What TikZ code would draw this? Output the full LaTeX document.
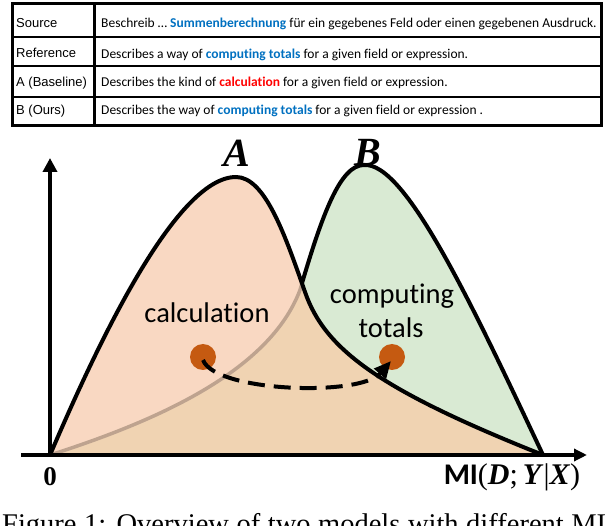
\documentclass[tikz,border=0pt]{standalone}
\usepackage{fontspec}
\setmainfont{Carlito}[Ligatures=NoCommon]
\newfontfamily\arialf{Liberation Sans}
\newfontfamily\timesf{Liberation Serif}
\usetikzlibrary{arrows.meta}
\definecolor{tblue}{RGB}{0,112,192}
\definecolor{tred}{RGB}{255,0,0}
\definecolor{peach}{RGB}{249,216,194}
\definecolor{tanc}{RGB}{240,211,178}
\definecolor{lgreen}{RGB}{217,234,211}
\definecolor{brownline}{RGB}{190,163,143}
\definecolor{dotc}{RGB}{197,90,17}
\tikzset{
  lbl/.style={anchor=base west, inner sep=0pt, font=\arialf\fontsize{13}{15}\selectfont},
  txt/.style={anchor=base west, inner sep=0pt, font=\fontsize{13.5}{15}\selectfont},
  outline/.style={line width=4pt, line join=round},
  axis/.style={line width=4pt},
  bigword/.style={inner sep=0pt, font=\fontsize{28.5}{30}\selectfont},
  peakname/.style={inner sep=0pt, font=\timesf\bfseries\itshape\fontsize{40}{40}\selectfont},
  dotstyle/.style={circle, fill=dotc, minimum size=26pt, inner sep=0pt}
}
\def\Apath{(50,455) .. controls (95,350) and (175,177) .. (236,177) .. controls (265,177) and (285,235) .. (305,292) .. controls (325,350) and (380,390) .. (543,455)}
\def\Bpath{(50,455) .. controls (160,420) and (270,370) .. (300,290) .. controls (322,215) and (340,165) .. (364,165) .. controls (405,162) and (470,300) .. (543,455)}
\begin{document}
\begin{tikzpicture}[x=1pt,y=-1pt]
\useasboundingbox (0,0) rectangle (608,526);
\begin{scope}
\clip (0,0) rectangle (608,526);
% ---------- table ----------
\draw[line width=2pt] (12,37) -- (601,37);
\draw[line width=2pt] (12,66) -- (601,66);
\draw[line width=2pt] (12,97) -- (601,97);
\draw[line width=3pt] (94,4) -- (94,126);
\draw[line width=3pt] (12,4) rectangle (601,126);
\node[lbl] (l1) at (16,28) {Source};
\node[lbl] (l2) at (16,58) {Reference};
\node[lbl] (l3) at (16,87) {A (Baseline)};
\node[lbl] (l4) at (16,115) {B (Ours)};
\node[txt] (t1) at (101,28) {Beschreib … \textcolor{tblue}{\bfseries Summenberechnung} für ein gegebenes Feld oder einen gegebenen Ausdruck.};
\node[txt] (t2) at (101,59) {Describes a way of \textcolor{tblue}{\bfseries computing totals} for a given field or expression.};
\node[txt] (t3) at (101,87) {Describes the kind of \textcolor{tred}{\bfseries calculation} for a given field or expression.};
\node[txt] (t4) at (101,115) {Describes the way of \textcolor{tblue}{\bfseries computing totals} for a given field or expression .};
% ---------- fills ----------
\fill[peach] \Apath -- cycle;
\fill[lgreen] \Bpath -- cycle;
\begin{scope}
  \clip \Bpath -- cycle;
  \fill[tanc] \Apath -- cycle;
\end{scope}
% ---------- outlines ----------
\begin{scope}[even odd rule]
  \clip (0,0) rectangle (608,526) \Apath -- cycle;
  \draw[outline] \Bpath;
\end{scope}
\begin{scope}
  \clip \Apath -- cycle;
  \draw[brownline, line width=3.5pt] \Bpath;
\end{scope}
\draw[outline] \Apath;
% ---------- axes ----------
\coordinate (O) at (50,455);
\coordinate (ytop) at (50,158);
\coordinate (xl) at (21,455);
\coordinate (xr) at (587,455);
\draw[axis, -{Triangle[length=14pt,width=14pt]}] (O) -- (ytop);
\draw[axis, -{Triangle[length=13pt,width=12pt]}] (xl) -- (xr);
\node[inner sep=0pt, font=\timesf\bfseries\fontsize{27}{27}\selectfont] (zero) at (50,477) {0};
\node[inner sep=0pt, font=\fontsize{30}{30}\selectfont] (mi) at (512,477) {{\bfseries MI}{\timesf(\textbf{\itshape D};\,\textbf{\itshape Y}|\textbf{\itshape X})}};
% ---------- labels ----------
\node[peakname] (pa) at (237,153) {A};
\node[peakname] (pb) at (368,152) {B};
\node[bigword] (calc) at (207,313) {calculation};
\node[bigword] (comp) at (392,296) {computing};
\node[bigword] (tot) at (391,328) {totals};
% ---------- dots and arrow ----------
\node[dotstyle] (d1) at (203,357) {};
\node[dotstyle] (d2) at (392,357) {};
\coordinate (astart) at (203,360);
\coordinate (aend) at (391,361);
\draw[line width=4pt, dash pattern=on 17pt off 9pt, -{Triangle[length=17pt,width=15pt]}] (astart) .. controls (215,392) and (360,397) .. (aend);
% ---------- caption (cut by the lower edge, as in the reference) ----------
\node[anchor=base west, inner sep=0pt, font=\timesf\fontsize{28.5}{30}\selectfont] (cap) at (2,533.5) {\makebox[604pt][s]{Figure 1: Overview of two models with different MI}};
\end{scope}
\end{tikzpicture}
\end{document}
